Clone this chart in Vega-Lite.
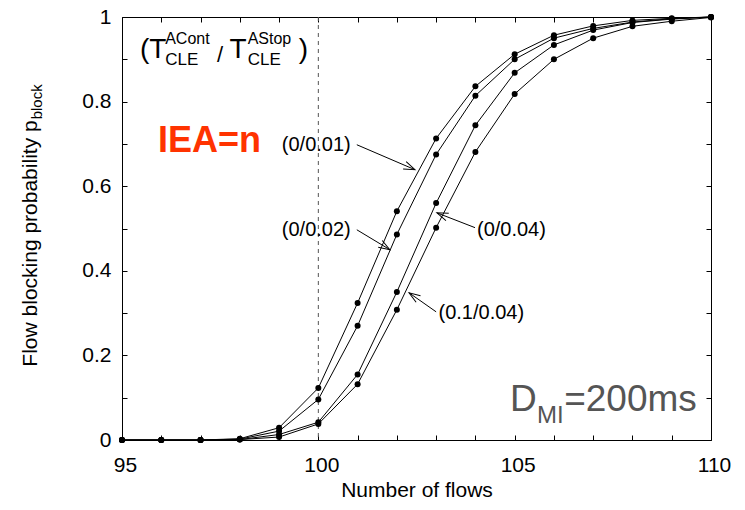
{
  "$schema": "https://vega.github.io/schema/vega-lite/v6.json",
  "width": 589,
  "height": 423,
  "autosize": "none",
  "padding": {"left": 122, "top": 17, "right": 34, "bottom": 70},
  "background": "white",
  "data": {"values": [{}]},
  "config": {
    "view": {"stroke": null},
    "font": "Liberation Sans",
    "axis": {
      "labelFont": "Liberation Sans", "labelFontSize": 21, "labelColor": "#000",
      "titleFont": "Liberation Sans", "titleFontSize": 21, "titleFontWeight": "normal", "titleColor": "#000",
      "domainColor": "#000", "tickColor": "#000", "grid": false, "tickSize": -5, "labelFlush": false
    }
  },
  "datasets": {
    "curves": [
      {"flows": 95, "p": 0, "series": "0/0.01"},
      {"flows": 96, "p": 0, "series": "0/0.01"},
      {"flows": 97, "p": 0, "series": "0/0.01"},
      {"flows": 98, "p": 0.003, "series": "0/0.01"},
      {"flows": 99, "p": 0.029, "series": "0/0.01"},
      {"flows": 100, "p": 0.123, "series": "0/0.01"},
      {"flows": 101, "p": 0.324, "series": "0/0.01"},
      {"flows": 102, "p": 0.541, "series": "0/0.01"},
      {"flows": 103, "p": 0.713, "series": "0/0.01"},
      {"flows": 104, "p": 0.836, "series": "0/0.01"},
      {"flows": 105, "p": 0.912, "series": "0/0.01"},
      {"flows": 106, "p": 0.957, "series": "0/0.01"},
      {"flows": 107, "p": 0.979, "series": "0/0.01"},
      {"flows": 108, "p": 0.992, "series": "0/0.01"},
      {"flows": 109, "p": 0.997, "series": "0/0.01"},
      {"flows": 110, "p": 1.0, "series": "0/0.01"},
      {"flows": 95, "p": 0, "series": "0/0.02"},
      {"flows": 96, "p": 0, "series": "0/0.02"},
      {"flows": 97, "p": 0, "series": "0/0.02"},
      {"flows": 98, "p": 0.002, "series": "0/0.02"},
      {"flows": 99, "p": 0.021, "series": "0/0.02"},
      {"flows": 100, "p": 0.096, "series": "0/0.02"},
      {"flows": 101, "p": 0.27, "series": "0/0.02"},
      {"flows": 102, "p": 0.486, "series": "0/0.02"},
      {"flows": 103, "p": 0.675, "series": "0/0.02"},
      {"flows": 104, "p": 0.814, "series": "0/0.02"},
      {"flows": 105, "p": 0.9, "series": "0/0.02"},
      {"flows": 106, "p": 0.95, "series": "0/0.02"},
      {"flows": 107, "p": 0.973, "series": "0/0.02"},
      {"flows": 108, "p": 0.988, "series": "0/0.02"},
      {"flows": 109, "p": 0.996, "series": "0/0.02"},
      {"flows": 110, "p": 1.0, "series": "0/0.02"},
      {"flows": 95, "p": 0, "series": "0/0.04"},
      {"flows": 96, "p": 0, "series": "0/0.04"},
      {"flows": 97, "p": 0, "series": "0/0.04"},
      {"flows": 98, "p": 0.001, "series": "0/0.04"},
      {"flows": 99, "p": 0.013, "series": "0/0.04"},
      {"flows": 100, "p": 0.042, "series": "0/0.04"},
      {"flows": 101, "p": 0.155, "series": "0/0.04"},
      {"flows": 102, "p": 0.35, "series": "0/0.04"},
      {"flows": 103, "p": 0.56, "series": "0/0.04"},
      {"flows": 104, "p": 0.744, "series": "0/0.04"},
      {"flows": 105, "p": 0.868, "series": "0/0.04"},
      {"flows": 106, "p": 0.934, "series": "0/0.04"},
      {"flows": 107, "p": 0.969, "series": "0/0.04"},
      {"flows": 108, "p": 0.987, "series": "0/0.04"},
      {"flows": 109, "p": 0.995, "series": "0/0.04"},
      {"flows": 110, "p": 1.0, "series": "0/0.04"},
      {"flows": 95, "p": 0, "series": "0.1/0.04"},
      {"flows": 96, "p": 0, "series": "0.1/0.04"},
      {"flows": 97, "p": 0, "series": "0.1/0.04"},
      {"flows": 98, "p": 0.001, "series": "0.1/0.04"},
      {"flows": 99, "p": 0.007, "series": "0.1/0.04"},
      {"flows": 100, "p": 0.038, "series": "0.1/0.04"},
      {"flows": 101, "p": 0.132, "series": "0.1/0.04"},
      {"flows": 102, "p": 0.308, "series": "0.1/0.04"},
      {"flows": 103, "p": 0.502, "series": "0.1/0.04"},
      {"flows": 104, "p": 0.681, "series": "0.1/0.04"},
      {"flows": 105, "p": 0.818, "series": "0.1/0.04"},
      {"flows": 106, "p": 0.9, "series": "0.1/0.04"},
      {"flows": 107, "p": 0.95, "series": "0.1/0.04"},
      {"flows": 108, "p": 0.978, "series": "0.1/0.04"},
      {"flows": 109, "p": 0.99, "series": "0.1/0.04"},
      {"flows": 110, "p": 0.999, "series": "0.1/0.04"}
    ],
    "labels": [
      {"x": 99.07, "y": 0.698, "label": "(0/0.01)"},
      {"x": 99.07, "y": 0.497, "label": "(0/0.02)"},
      {"x": 104.04, "y": 0.497, "label": "(0/0.04)"},
      {"x": 103.06, "y": 0.301, "label": "(0.1/0.04)"}
    ],
    "arrows": [
      {"x": 100.98, "y": 0.698, "x2": 102.46, "y2": 0.639},
      {"x": 100.98, "y": 0.497, "x2": 101.82, "y2": 0.45},
      {"x": 103.99, "y": 0.502, "x2": 103.02, "y2": 0.537},
      {"x": 103.0, "y": 0.303, "x2": 102.31, "y2": 0.348}
    ]
  },
  "resolve": {"axis": {"x": "independent", "y": "independent"}},
  "layer": [
    {
      "mark": {"type": "rule", "color": "#555", "strokeDash": [4, 4], "strokeWidth": 1},
      "encoding": {"x": {"datum": 100, "type": "quantitative", "scale": {"domain": [95, 110], "nice": false}, "axis": null}}
    },
    {
      "data": {"name": "curves"},
      "mark": {"type": "line", "color": "#000", "strokeWidth": 1},
      "encoding": {
        "x": {"field": "flows", "type": "quantitative", "scale": {"domain": [95, 110], "nice": false},
          "axis": {"values": [95,96,97,98,99,100,101,102,103,104,105,106,107,108,109,110],
            "labelExpr": "datum.value % 5 == 0 ? datum.label : ''", "labelPadding": 19, "labelOffset": 3,
            "title": "Number of flows", "titlePadding": 4}},
        "y": {"field": "p", "type": "quantitative", "scale": {"domain": [0, 1], "nice": false},
          "axis": {"values": [0,0.1,0.2,0.3,0.4,0.5,0.6,0.7,0.8,0.9,1],
            "labelExpr": "round(datum.value*10) % 2 == 0 ? format(datum.value, '~g') : ''", "labelPadding": 16,
            "title": "Flow blocking probability p", "titleX": -86, "titleY": 226, "titleAngle": -90,
            "titleBaseline": "alphabetic", "titleAlign": "center"}},
        "detail": {"field": "series"}
      }
    },
    {
      "data": {"name": "curves"},
      "mark": {"type": "point", "filled": true, "color": "#000", "size": 36, "opacity": 1},
      "encoding": {
        "x": {"field": "flows", "type": "quantitative",
          "axis": {"orient": "top", "values": [95,96,97,98,99,100,101,102,103,104,105,106,107,108,109,110], "labels": false, "title": null}},
        "y": {"field": "p", "type": "quantitative",
          "axis": {"orient": "right", "values": [0,0.1,0.2,0.3,0.4,0.5,0.6,0.7,0.8,0.9,1], "labels": false, "title": null}}
      }
    },
    {
      "data": {"name": "arrows"},
      "mark": {"type": "rule", "color": "#000", "strokeWidth": 1},
      "encoding": {
        "x": {"field": "x", "type": "quantitative", "axis": null},
        "y": {"field": "y", "type": "quantitative", "axis": null},
        "x2": {"field": "x2"},
        "y2": {"field": "y2"}
      }
    },
    {
      "mark": {"type": "point", "shape": "M-1,-0.35L0,0L-1,0.35", "filled": false, "color": "#000", "strokeWidth": 1, "size": 500, "angle": 23, "opacity": 1},
      "encoding": {"x": {"datum": 102.46, "type": "quantitative", "axis": null}, "y": {"datum": 0.639, "type": "quantitative", "axis": null}}
    },
    {
      "mark": {"type": "point", "shape": "M-1,-0.35L0,0L-1,0.35", "filled": false, "color": "#000", "strokeWidth": 1, "size": 500, "angle": 31, "opacity": 1},
      "encoding": {"x": {"datum": 101.82, "type": "quantitative", "axis": null}, "y": {"datum": 0.45, "type": "quantitative", "axis": null}}
    },
    {
      "mark": {"type": "point", "shape": "M-1,-0.35L0,0L-1,0.35", "filled": false, "color": "#000", "strokeWidth": 1, "size": 500, "angle": 201, "opacity": 1},
      "encoding": {"x": {"datum": 103.02, "type": "quantitative", "axis": null}, "y": {"datum": 0.537, "type": "quantitative", "axis": null}}
    },
    {
      "mark": {"type": "point", "shape": "M-1,-0.35L0,0L-1,0.35", "filled": false, "color": "#000", "strokeWidth": 1, "size": 500, "angle": 214, "opacity": 1},
      "encoding": {"x": {"datum": 102.31, "type": "quantitative", "axis": null}, "y": {"datum": 0.348, "type": "quantitative", "axis": null}}
    },
    {
      "data": {"name": "labels"},
      "mark": {"type": "text", "align": "left", "baseline": "middle", "fontSize": 20, "font": "Liberation Sans", "color": "#000"},
      "encoding": {
        "x": {"field": "x", "type": "quantitative", "axis": null},
        "y": {"field": "y", "type": "quantitative", "axis": null},
        "text": {"field": "label"}
      }
    },
    {
      "data": {"values": [
        {"x": 95.458, "y": 0.9025, "t": "(T"},
        {"x": 97.74, "y": 0.9025, "t": "T"},
        {"x": 99.5, "y": 0.9025, "t": ")"}
      ]},
      "mark": {"type": "text", "align": "left", "baseline": "alphabetic", "fontSize": 28, "font": "Liberation Sans", "color": "#000"},
      "encoding": {
        "x": {"field": "x", "type": "quantitative", "axis": null},
        "y": {"field": "y", "type": "quantitative", "axis": null},
        "text": {"field": "t"}
      }
    },
    {
      "data": {"values": [
        {"x": 96.1, "y": 0.935, "t": "ACont"},
        {"x": 98.2, "y": 0.935, "t": "AStop"}
      ]},
      "mark": {"type": "text", "align": "left", "baseline": "alphabetic", "fontSize": 16, "font": "Liberation Sans", "color": "#000"},
      "encoding": {
        "x": {"field": "x", "type": "quantitative", "axis": null},
        "y": {"field": "y", "type": "quantitative", "axis": null},
        "text": {"field": "t"}
      }
    },
    {
      "data": {"values": [
        {"x": 96.1, "y": 0.886, "t": "CLE"},
        {"x": 98.2, "y": 0.886, "t": "CLE"}
      ]},
      "mark": {"type": "text", "align": "left", "baseline": "alphabetic", "fontSize": 17, "font": "Liberation Sans", "color": "#000"},
      "encoding": {
        "x": {"field": "x", "type": "quantitative", "axis": null},
        "y": {"field": "y", "type": "quantitative", "axis": null},
        "text": {"field": "t"}
      }
    },
    {
      "mark": {"type": "text", "align": "left", "baseline": "alphabetic", "fontSize": 22, "font": "Liberation Sans", "color": "#000", "text": "/"},
      "encoding": {"x": {"datum": 97.42, "type": "quantitative", "axis": null}, "y": {"datum": 0.8937, "type": "quantitative", "axis": null}}
    },
    {
      "mark": {"type": "text", "align": "left", "baseline": "alphabetic", "fontSize": 36, "fontWeight": "bold", "font": "Liberation Sans", "color": "#ff3300", "text": "IEA=n"},
      "encoding": {"x": {"datum": 95.917, "type": "quantitative", "axis": null}, "y": {"datum": 0.681, "type": "quantitative", "axis": null}}
    },
    {
      "data": {"values": [
        {"x": 104.88, "y": 0.068, "t": "D"},
        {"x": 106.26, "y": 0.068, "t": "=200ms"}
      ]},
      "mark": {"type": "text", "align": "left", "baseline": "alphabetic", "fontSize": 37, "font": "Liberation Sans", "color": "#555"},
      "encoding": {
        "x": {"field": "x", "type": "quantitative", "axis": null},
        "y": {"field": "y", "type": "quantitative", "axis": null},
        "text": {"field": "t"}
      }
    },
    {
      "mark": {"type": "text", "align": "left", "baseline": "alphabetic", "fontSize": 24, "font": "Liberation Sans", "color": "#555", "text": "MI"},
      "encoding": {"x": {"datum": 105.57, "type": "quantitative", "axis": null}, "y": {"datum": 0.0406, "type": "quantitative", "axis": null}}
    },
    {
      "mark": {"type": "text", "align": "left", "baseline": "alphabetic", "fontSize": 15, "font": "Liberation Sans", "color": "#000", "angle": 270, "text": "block"},
      "encoding": {"x": {"datum": 92.96, "type": "quantitative", "axis": null}, "y": {"datum": 0.758, "type": "quantitative", "axis": null}}
    }
  ]
}
